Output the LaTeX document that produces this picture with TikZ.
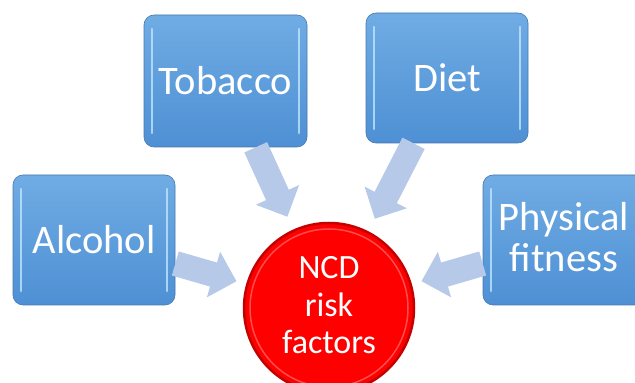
\documentclass[tikz,border=0pt]{standalone}
\usepackage{fontspec}
\setmainfont{Carlito}
\usepackage{tikz}
\usetikzlibrary{arrows.meta}
\usetikzlibrary{positioning}
\definecolor{boxtop}{RGB}{112,172,228}
\definecolor{boxbottom}{RGB}{78,144,212}
\definecolor{boxedge}{RGB}{70,120,178}
\definecolor{boxshine}{RGB}{190,230,252}
\definecolor{arrowblue}{RGB}{182,201,232}
\definecolor{ncdred}{RGB}{255,0,0}
\definecolor{ncdedge}{RGB}{196,0,0}

\tikzset{
  factor/.style={rounded corners=10pt, minimum width=162pt, minimum height=130pt,
    top color=boxtop, bottom color=boxbottom, draw=boxedge, line width=0.6pt,
    text=white, align=center, font=\fontsize{40.5}{41}\selectfont,
    path picture={
      \draw[boxshine, opacity=0.8, line width=2.5pt, line cap=round]
        ([xshift=8pt,yshift=-14pt]path picture bounding box.north west) --
        ([xshift=8pt,yshift=14pt]path picture bounding box.south west);
      \draw[boxshine, opacity=0.8, line width=2.5pt, line cap=round]
        ([xshift=-8pt,yshift=-14pt]path picture bounding box.north east) --
        ([xshift=-8pt,yshift=14pt]path picture bounding box.south east);
    }},
  riskarrow/.style={draw=arrowblue, line width=25pt, line cap=butt,
    -{Triangle[length=24pt, width=46pt]}},
}

\begin{document}
\begin{tikzpicture}[line cap=round,line join=round, x=1pt, y=1pt]
\useasboundingbox (0,0) rectangle (635,383);
\clip (0,0) rectangle (635,383);
% the four factors
\node[factor] (alcohol) at (94,143) {Alcohol};
\node[factor, minimum width=163pt, minimum height=132pt] (tobacco) at (225.5,302) {Tobacco};
\node[factor] (diet) at (447,305) {Diet};
\node[factor] (fitness) at (564,143) {Physical\\fitness\vphantom{y}};
% centre
\node[circle, minimum size=170pt, fill=ncdred, draw=ncdedge, line width=2.5pt,
  text=white, align=center, font=\fontsize{34}{37.5}\selectfont,
  path picture={\draw[white, opacity=0.3, line width=1.5pt] (path picture bounding box.center) circle (79pt);}]
  (ncd) at (329,75) {NCD\\risk\\factors\vphantom{g}};
% arrows
\draw[riskarrow, shorten >=10pt] (alcohol) -- (ncd);
\draw[riskarrow, shorten >=14pt] (tobacco) -- (ncd);
\draw[riskarrow, shorten >=14pt] (diet) -- (ncd);
\draw[riskarrow, shorten >=10pt] (fitness) -- (ncd);
\end{tikzpicture}
\end{document}
